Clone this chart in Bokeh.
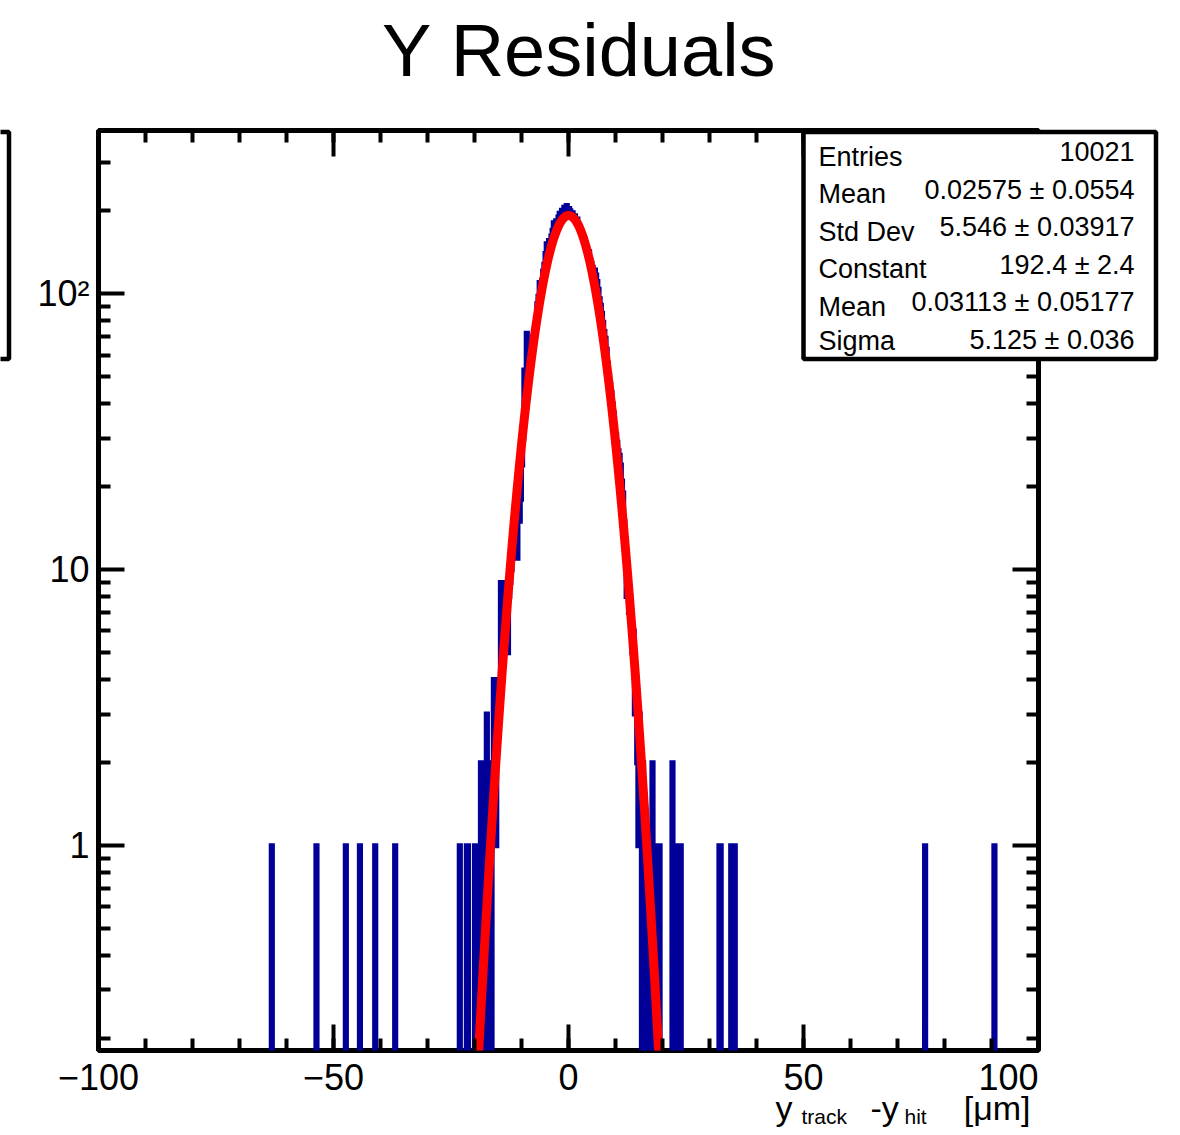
import numpy as np
from bokeh.plotting import figure
from bokeh.layouts import column
from bokeh.models import Range1d, FixedTicker, LinearAxis, LogAxis, BoxAnnotation, Label
from bokeh.embed import file_html
from bokeh.resources import INLINE

# ---------------- data ----------------
bin_width = 0.25
core_start = -17.25
core_counts = [
    0, 1, 2, 0, 1, 4, 2, 1, 4, 3, 4, 9, 5, 5, 8, 6, 9, 5, 8, 9,          # -17.25 .. -12.5
    10, 11, 12, 11, 12, 11, 17, 15, 18, 24, 30, 53, 41, 72, 50, 58,     # -12.25 .. -8.5
    55, 63, 66, 70, 74, 81, 92, 98, 110, 106, 112, 121, 128, 140, 152, # -8.25 .. -4.75
    147, 156, 151, 162, 170, 181, 175, 184, 180, 190, 196, 193, 201,   # -4.5 .. -1.5
    197, 206, 198, 209, 196, 204, 200, 194, 197, 189, 192, 184, 187,   # -1.25 .. 1.75
    179, 176, 171, 166, 160, 158, 150, 148, 140, 142, 133, 129, 125,   # 2.0 .. 5.0
    118, 122, 117, 111, 104, 96, 91, 85, 79, 73, 69, 63, 56, 51, 47,   # 5.25 .. 8.75
    44, 40, 37, 33, 31, 29, 27, 26, 24, 21, 19, 15, 12, 8, 9, 7, 8,    # 9.0 .. 13.0
    6, 5, 6, 3, 3, 2, 1, 3, 2, 0, 2, 0, 1, 0, 1, 0,                    # 13.25 .. 17.0
]
tail_edges = [-63.25, -53.75, -47.5, -44.5, -41.25, -37.0, -23.25, -21.75, -21.5,
              -20.0, -19.25, -18.75, -17.5,
              17.75, 19.0, 19.25, 22.0, 23.25, 23.75, 32.0, 32.25, 34.5, 35.0, 35.25,
              75.75, 90.5]
tail_counts = [1, 1, 1, 1, 1, 1, 1, 1, 1,
               1, 1, 2, 3,
               2, 1, 1, 2, 1, 1, 1, 1, 1, 1, 1,
               1, 1]

fit_constant = 192.4
fit_mean = 0.03113
fit_sigma = 5.125

x_ticks = [-100, -50, 0, 50, 100]
x_tick_labels = ["\u2212100", "\u221250", "0", "50", "100\u2007\u2007\u2007"]
y_ticks = [1, 10, 100]
y_tick_labels = ["1", "10", "10\u00b2"]

stats_names = ["Entries", "Mean", "Std Dev", "Constant", "Mean", "Sigma"]
stats_values = ["10021", "0.02575 \u00b1 0.0554", "5.546 \u00b1 0.03917",
                "192.4 \u00b1 2.4", "0.03113 \u00b1 0.05177", "5.125 \u00b1 0.036"]

title_text = "Y Residuals"

# ---------------- histogram path ----------------
x_lo, x_hi = -100.0, 100.0
nbins = int(round((x_hi - x_lo) / bin_width))
edges = x_lo + bin_width * np.arange(nbins + 1)
counts = np.zeros(nbins)
for i, c in enumerate(core_counts):
    counts[int(round((core_start + i * bin_width - x_lo) / bin_width))] = c
for e, c in zip(tail_edges, tail_counts):
    counts[int(round((e - x_lo) / bin_width))] = c
floor = 0.03
ys = np.where(counts > 0, counts, floor)
hx = np.repeat(edges, 2)[1:-1]
hy = np.repeat(ys, 2)

fx = np.linspace(-30, 30, 1201)
fy = fit_constant * np.exp(-0.5 * ((fx - fit_mean) / fit_sigma) ** 2)

# ---------------- main figure ----------------
W, H = 1176, 1132
FONT = "Liberation Sans"
p = figure(width=W, height=H, y_axis_type="log",
           x_range=Range1d(x_lo, x_hi), y_range=Range1d(0.181, 391),
           output_backend="svg", toolbar_location=None,
           min_border_left=98, min_border_right=W - 1038,
           min_border_top=130, min_border_bottom=H - 1050)
p.title.visible = False
p.xgrid.visible = False
p.ygrid.visible = False
p.outline_line_color = "black"
p.outline_line_width = 5
p.background_fill_color = "white"
p.border_fill_color = "white"

p.line(hx, hy, line_color="#000099", line_width=5, line_join="miter")
p.line(fx, fy, line_color="#ff0000", line_width=9, line_join="round")

x_minor = [v for v in range(-100, 101, 10)]
y_minor = [m * 10.0 ** k for k in range(-1, 3) for m in range(2, 10) if 0.181 < m * 10.0 ** k < 391]
xt = FixedTicker(ticks=x_ticks, minor_ticks=x_minor)
yt = FixedTicker(ticks=y_ticks, minor_ticks=y_minor)

top_ax = LinearAxis()
right_ax = LogAxis()
p.add_layout(top_ax, "above")
p.add_layout(right_ax, "right")

def style(ax, ticker, show):
    ax.ticker = ticker
    ax.axis_line_color = None
    ax.major_tick_in = 26
    ax.major_tick_out = 0
    ax.minor_tick_in = 12
    ax.minor_tick_out = 0
    ax.major_tick_line_width = 4
    ax.minor_tick_line_width = 4
    ax.major_tick_line_color = "black"
    ax.minor_tick_line_color = "black"
    ax.major_label_text_font = FONT
    ax.major_label_text_font_size = "36px" if show else "0px"
    ax.major_label_text_color = "black" if show else None

for ax in p.below:
    style(ax, xt, True)
    ax.major_label_standoff = 6
    ax.major_label_overrides = dict(zip(x_ticks, x_tick_labels))
for ax in p.left:
    style(ax, yt, True)
    ax.major_label_standoff = 9
    ax.major_label_overrides = dict(zip(y_ticks, y_tick_labels))
style(top_ax, xt, False)
style(right_ax, yt, False)

# ---------------- transparent overlay (page-pixel coordinates) ----------------
ov = figure(width=W, height=H, x_range=Range1d(0, W), y_range=Range1d(H, 0),
            output_backend="svg", toolbar_location=None, min_border=0,
            x_axis_location=None, y_axis_location=None)
ov.title.visible = False
ov.grid.visible = False
ov.outline_line_color = None
ov.background_fill_alpha = 0
ov.border_fill_alpha = 0
ov.margin = (-H, 0, 0, 0)
p.frame_align = False
ov.frame_align = False

def lab(text, x, y, size, align="left", baseline="middle"):
    ov.add_layout(Label(x=x, y=y, text=text, text_font=FONT, text_font_size=size,
                        text_align=align, text_baseline=baseline, text_color="black"))

def box(l, r, t, b):
    ov.add_layout(BoxAnnotation(left=l, right=r, top=t, bottom=b,
                                fill_color="white", fill_alpha=1.0,
                                line_color="black", line_alpha=1.0, line_width=4.5))

lab(title_text, 579, 50, "74px", align="center")

# x axis title with subscripts
lab("y", 775, 1107, "34px")
lab("track", 801, 1116, "21px")
lab("-y", 870, 1107, "34px")
lab("hit", 904, 1116, "21px")
lab("[\u03bcm]", 1030, 1107, "34px", align="right")

# stats box and a partial neighbouring box at the far left
box(803, 1155.5, 131.5, 358.5)
box(-60, 8.5, 131.5, 358.5)

name_rows = [156, 193, 231, 268, 306, 340]
value_rows = [151, 189, 226, 264, 301, 339]
for n, v, ny, vy in zip(stats_names, stats_values, name_rows, value_rows):
    lab(n, 818, ny, "27px")
    lab(v, 1134, vy, "27px", align="right")

layout = column(p, ov, spacing=0)
open("out.html", "w").write(file_html(layout, INLINE))
